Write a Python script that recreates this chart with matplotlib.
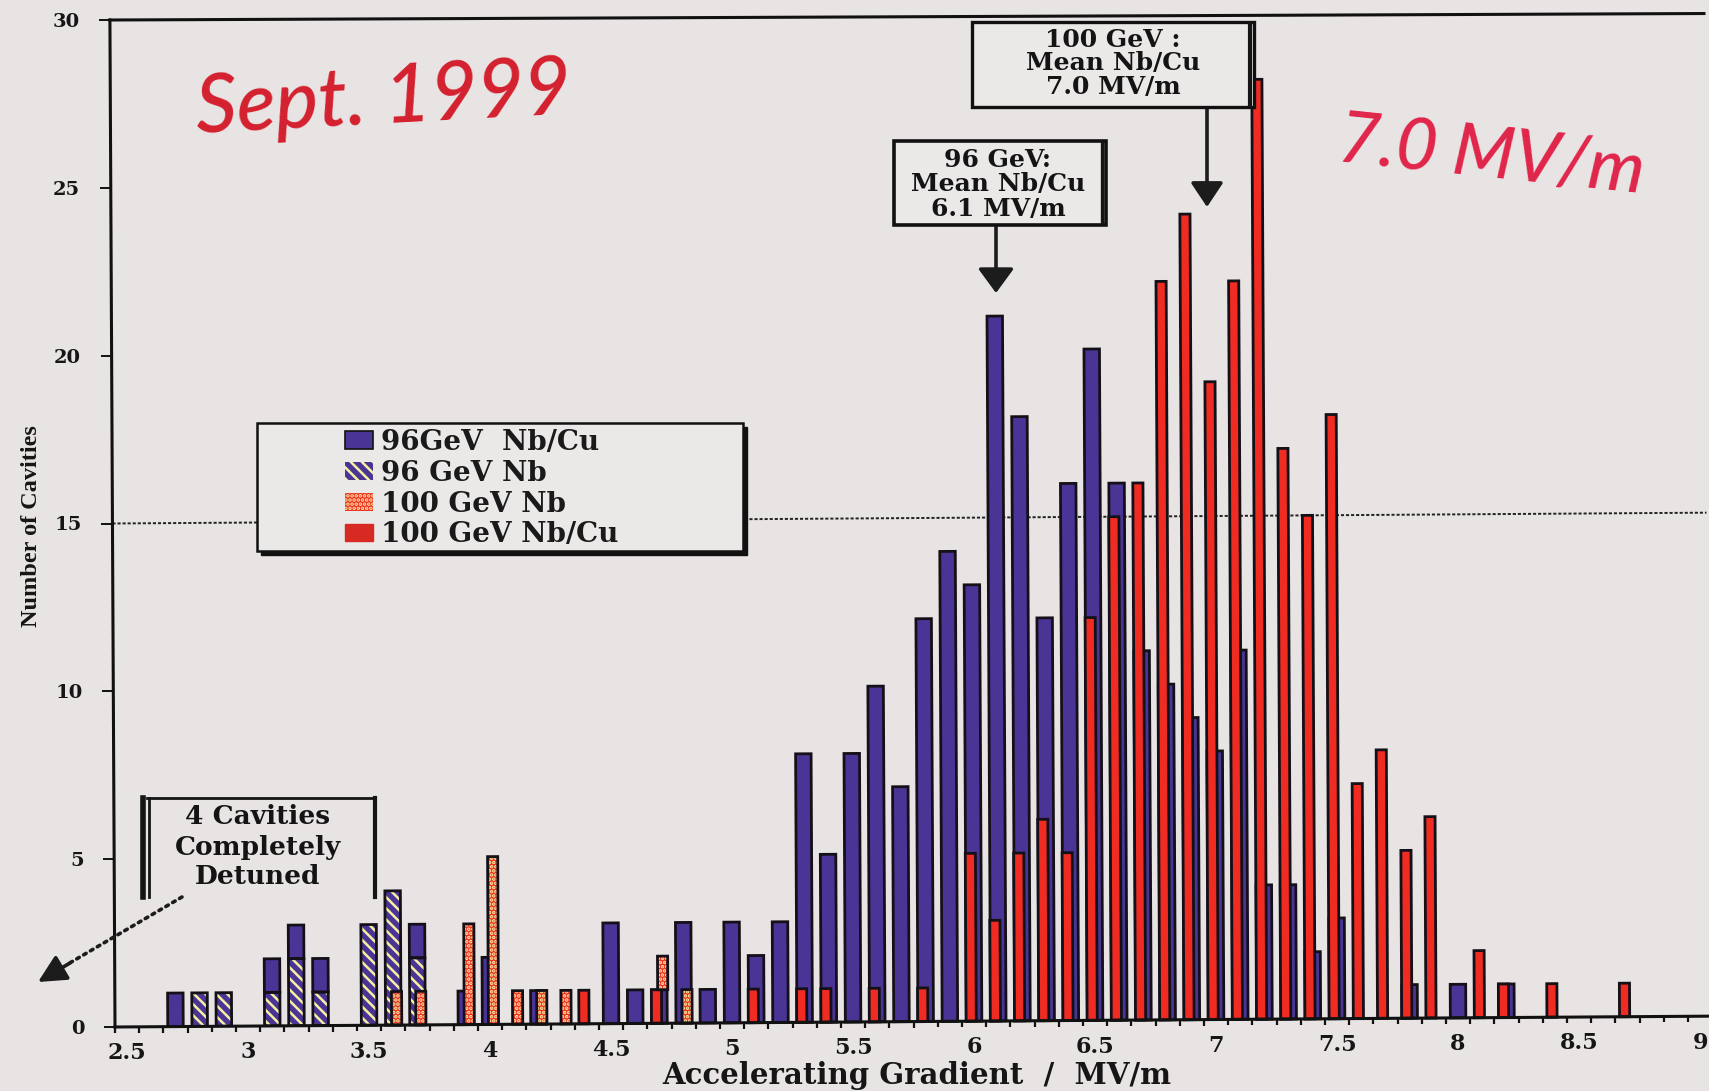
import numpy as np
import matplotlib
matplotlib.use("Agg")
import matplotlib.pyplot as plt
from matplotlib.lines import Line2D
from matplotlib.patches import Patch, Rectangle
from matplotlib.transforms import Affine2D

# ---- data ----
gradient = [2.7, 2.8, 2.9, 3.0, 3.1, 3.2, 3.3, 3.4, 3.5, 3.6,
            3.7, 3.8, 3.9, 4.0, 4.1, 4.2, 4.3, 4.4, 4.5, 4.6,
            4.7, 4.8, 4.9, 5.0, 5.1, 5.2, 5.3, 5.4, 5.5, 5.6,
            5.7, 5.8, 5.9, 6.0, 6.1, 6.2, 6.3, 6.4, 6.5, 6.6,
            6.7, 6.8, 6.9, 7.0, 7.1, 7.2, 7.3, 7.4, 7.5, 7.6,
            7.7, 7.8, 7.9, 8.0, 8.1, 8.2, 8.3, 8.4, 8.5, 8.6, 8.7]
nb_96 = [0, 1, 1, 0, 1, 2, 1, 0, 3, 4,
         2, 0, 0, 0, 0, 0, 0, 0, 0, 0,
         0, 0, 0, 0, 0, 0, 0, 0, 0, 0,
         0, 0, 0, 0, 0, 0, 0, 0, 0, 0,
         0, 0, 0, 0, 0, 0, 0, 0, 0, 0,
         0, 0, 0, 0, 0, 0, 0, 0, 0, 0, 0]
nbcu_96 = [1, 0, 0, 0, 1, 1, 1, 0, 0, 0,
           1, 0, 1, 2, 0, 1, 0, 0, 3, 1,
           1, 3, 1, 3, 2, 3, 8, 5, 8, 10,
           7, 12, 14, 13, 21, 18, 12, 16, 20, 16,
           11, 10, 9, 8, 11, 4, 4, 2, 3, 0,
           0, 1, 0, 1, 0, 1, 0, 0, 0, 0, 0]
nbcu_100 = [0, 0, 0, 0, 0, 0, 0, 0, 0, 0,
            0, 0, 0, 0, 0, 0, 0, 1, 0, 0,
            1, 0, 0, 0, 1, 0, 1, 1, 0, 1,
            0, 1, 0, 5, 3, 5, 6, 5, 12, 15,
            16, 22, 24, 19, 22, 28, 17, 15, 18, 7,
            8, 5, 6, 0, 2, 1, 0, 1, 0, 0, 1]
nb_100 = [0, 0, 0, 0, 0, 0, 0, 0, 0, 1,
          1, 0, 3, 5, 1, 1, 1, 0, 0, 0,
          1, 1, 0, 0, 0, 0, 0, 0, 0, 0,
          0, 0, 0, 0, 0, 0, 0, 0, 0, 0,
          0, 0, 0, 0, 0, 0, 0, 0, 0, 0,
          0, 0, 0, 0, 0, 0, 0, 0, 0, 0, 0]
x_tick_values = [2.5, 3, 3.5, 4, 4.5, 5, 5.5, 6, 6.5, 7, 7.5, 8, 8.5, 9]
x_tick_labels = ["2.5", "3", "3.5", "4", "4.5", "5", "5.5", "6", "6.5", "7", "7.5", "8", "8.5", "9"]
y_ticks = [0, 5, 10, 15, 20, 25, 30]
series_names = ["96GeV  Nb/Cu", "96 GeV Nb", "100 GeV Nb", "100 GeV Nb/Cu"]

BG, BLUE, RED, PALE = "#e8e4e4", "#4a3596", "#ef2b22", "#f6f0a0"
W, H = 1709, 1091
X0, Y0, YT = 115, 1027, 20      # axes pixel frame
S = 242.0                       # pixels per MV/m
serif = "DejaVu Serif"

plt.rcParams["hatch.linewidth"] = 1.8
fig = plt.figure(figsize=(W / 100, H / 100), dpi=100, facecolor=BG)
ax = fig.add_axes([X0 / W, 1 - Y0 / H, (W - X0) / W, (Y0 - YT) / H])
ax.patch.set_visible(False)
xleft = 2.45
ax.set_xlim(xleft, xleft + (W - X0) / S)
ax.set_ylim(0, 30)
for sp in ax.spines.values():
    sp.set_visible(False)

# the scan is slightly rotated
KY = 0.049   # count units gained per MV/m
KX = -0.0007 # MV/m per count unit
tilt = Affine2D(np.array([[1, KX, 0], [KY, 1, -KY * xleft], [0, 0, 1]]))
T = tilt + ax.transData


def px(x, y):
    return x / W, 1 - y / H


x = np.array(gradient)
arr = lambda s: np.array(s, float)


def bars(xc, h, bottom, w, face, hatch=None, z=3):
    m = h > 0
    if hatch:
        ax.bar(xc[m], h[m], w, bottom=bottom[m], facecolor=face, edgecolor=PALE,
               hatch=hatch, linewidth=0, zorder=z, transform=T)
        ax.bar(xc[m], h[m], w, bottom=bottom[m], fill=False, edgecolor="#141018",
               linewidth=2.0, zorder=z + 0.1, transform=T)
    else:
        ax.bar(xc[m], h[m], w, bottom=bottom[m], facecolor=face, edgecolor="#141018",
               linewidth=2.0, zorder=z, transform=T)


zero = np.zeros(len(x))
WB, WR, OFF, OFF2 = 0.064, 0.042, -0.012, 0.014
bars(x, arr(nb_96), zero, WB, BLUE, "\\\\\\", 3)
bars(x, arr(nbcu_96), arr(nb_96), WB, BLUE, None, 3)
bars(x + OFF, arr(nbcu_100), zero, WR, RED, None, 4)
bars(x + OFF2, arr(nb_100), arr(nbcu_100), WR, RED, "....", 4)

# frame lines and the dotted level at 15
xr = ax.get_xlim()[1]
ax.plot([xleft, xr], [0, 0], color="#111", lw=2.2, transform=T, clip_on=False, zorder=5)
ax.plot([xleft, xr], [30, 29.87], color="#111", lw=2.2, transform=T, clip_on=False, zorder=5)
ax.plot([xleft, xleft], [0, 30], color="#111", lw=2.2, transform=T, clip_on=False, zorder=5)
ax.plot([xleft, xr], [15, 15], color="#222", lw=1.4, ls=(0, (1.6, 1)), transform=T, clip_on=False, zorder=1)

# axis ticks
tick_font = dict(family=serif, weight="bold", size=14, color="#161616")
ax.set_xticks(np.arange(0, 66) * 0.1 + xleft)
ax.set_xticklabels([])
ax.set_xticks(x_tick_values, labels=x_tick_labels, minor=True, family=serif, weight="bold", size=16, color="#161616")
ax.set_yticks(y_ticks, labels=[str(v) for v in y_ticks], **tick_font)
ax.tick_params(axis="x", which="major", direction="out", length=4, width=1.6, color="#111")
ax.tick_params(axis="x", which="minor", length=0, pad=11)
ax.tick_params(axis="y", direction="out", length=8, width=1.4, pad=14, color="#111")
for t in ax.xaxis.get_major_ticks():
    t.tick1line.set_ydata([KY * (t.get_loc() - xleft) / 30])
for t in ax.xaxis.get_minor_ticks():
    t.label1.set_y(KY * (t.get_loc() - xleft) / 30)
wx = (W - X0) / S
for t in ax.yaxis.get_major_ticks():
    f = KX * t.get_loc() / wx
    t.tick1line.set_xdata([f])
    t.label1.set_x(f)

ax.set_xlabel("Accelerating Gradient  /  MV/m", family=serif, weight="bold", size=21, color="#161616")
ax.xaxis.set_label_coords((917 - X0) / (W - X0), -(1076 - Y0) / (Y0 - YT), transform=ax.transAxes)
ax.xaxis.label.set_va("center")
ax.set_ylabel("Number of Cavities", family="Liberation Serif", weight="bold", size=17.5, color="#161616")
ax.yaxis.set_label_coords((32 - X0) / (W - X0), (Y0 - 526) / (Y0 - YT), transform=ax.transAxes)
ax.yaxis.label.set_va("center")


def box(x0, y0, x1, y1, lw=1.8, z=6, shadow=0):
    if shadow:
        fig.add_artist(Rectangle(px(x0 + shadow, y1 + shadow), (x1 - x0) / W, (y1 - y0) / H,
                                 facecolor="#111", edgecolor="#111", zorder=z - 0.1))
    fig.add_artist(Rectangle(px(x0, y1), (x1 - x0) / W, (y1 - y0) / H,
                             facecolor="#ebe8e8", edgecolor="#111", lw=lw, zorder=z))


def vline(xp, y0, y1, lw, z=6.7):
    a, b = px(xp, y0), px(xp, y1)
    fig.add_artist(Line2D([a[0], b[0]], [a[1], b[1]], color="#151515", lw=lw, zorder=z))


def lines(xc, ys, rows, size=18):
    for y, s in zip(ys, rows):
        fig.text(*px(xc, y), s, ha="center", va="center", family=serif, weight="bold",
                 size=size, color="#141414", zorder=8)


def arrow(x0, y0, x1, y1, head, width, ls="-"):
    return ax.annotate("", xy=px(x1, y1), xytext=px(x0, y0), xycoords="figure fraction",
                       textcoords="figure fraction", zorder=7, annotation_clip=False,
                       arrowprops=dict(arrowstyle=f"-|>,head_length={head},head_width={width}",
                                       color="#1c1c1c", lw=2.6, ls=ls, shrinkA=0, shrinkB=0))


# legend
box(257, 423, 743, 551, shadow=4)
handles = [Patch(facecolor=BLUE, edgecolor="#111", lw=1.2),
           Patch(facecolor=BLUE, edgecolor=PALE, hatch="\\\\\\", lw=0),
           Patch(facecolor=RED, edgecolor=PALE, hatch="....", lw=0),
           Patch(facecolor="#d62a22", edgecolor="#d62a22", lw=1.0)]
leg = fig.legend(handles, series_names, loc="upper left", bbox_to_anchor=px(335, 419),
                 bbox_transform=fig.transFigure, frameon=False, handlelength=1.0, handleheight=0.6,
                 handletextpad=0.3, labelspacing=0.14, borderpad=0.35, borderaxespad=0,
                 prop=dict(family=serif, weight="bold", size=20), labelcolor="#1a1a1a")
leg.set_zorder(8)

# callouts
box(972, 22, 1254, 107, lw=2.4)
vline(1250, 24, 105, 3)
lines(1113, [40, 63, 87], ["100 GeV :", "Mean Nb/Cu", "7.0 MV/m"])
arrow(1207, 107, 1207, 207, 1.5, 1.0)
box(894, 141, 1106, 225, lw=2.6)
vline(1102, 143, 223, 2.4)
lines(998, [160, 184, 209], ["96 GeV:", "Mean Nb/Cu", "6.1 MV/m"])
arrow(996, 225, 996, 293, 1.5, 1.1)
a, b = px(147, 798), px(375, 798)
fig.add_artist(Line2D([a[0], b[0]], [a[1], b[1]], color="#151515", lw=2, zorder=6.7))
vline(143, 798, 897, 4)
vline(149, 798, 897, 2)
vline(375, 798, 897, 3)
lines(258, [817, 847, 877], ["4 Cavities", "Completely", "Detuned"], size=19)
# dotted shaft, then a solid head
a, b = px(182, 897), px(68, 964)
ax.annotate("", xy=b, xytext=a, xycoords="figure fraction", textcoords="figure fraction",
            annotation_clip=False, zorder=7,
            arrowprops=dict(arrowstyle="-", color="#1c1c1c", lw=2.6, ls=(0, (0.8, 1.4)),
                            shrinkA=0, shrinkB=0))
arrow(70, 963, 38, 982, 1.7, 0.85)

# handwritten notes
fig.text(*px(384, 100), "Sept. 1999", ha="center", va="center", family="Lato", style="italic",
         weight="medium", size=58, color="#d4202e", rotation=3, zorder=9)
fig.text(*px(1491, 157), "7.0 MV/m", ha="center", va="center", family="Lato", style="italic",
         weight="medium", size=51, color="#e0254a", rotation=-6, zorder=9)

fig.savefig("out.png", dpi=100, facecolor=BG)
